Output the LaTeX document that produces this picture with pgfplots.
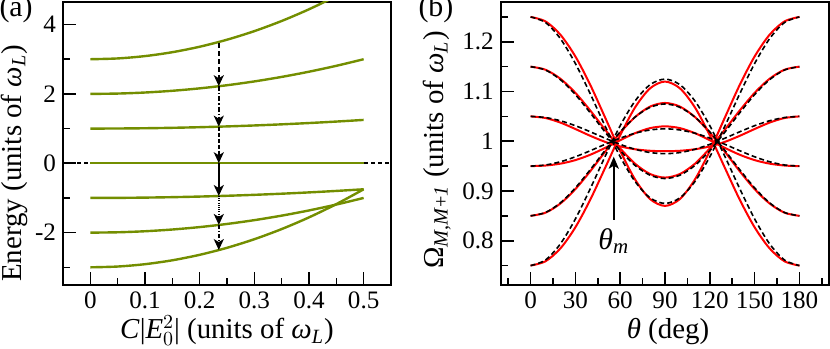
\documentclass[border=0pt]{standalone}
\usepackage{fontspec}
\setmainfont{Liberation Serif}
\usepackage{pgfplots}
\usepackage{pgfplotstable}
\pgfplotsset{compat=1.18}
\usetikzlibrary{arrows.meta}
\definecolor{olivegreen}{RGB}{115,142,0}

\pgfplotstableread{
x m3 m2 m1 m0 n1 n2 n3
0 3 2 1 0 -1 -2 -3
0.05 3.0225 2.01 1.0025 0 -0.9975 -1.99 -2.9775
0.1 3.09 2.04 1.01 0 -0.99 -1.96 -2.91
0.15 3.2025 2.09 1.0225 0 -0.9775 -1.91 -2.7975
0.2 3.36 2.16 1.04 0 -0.96 -1.84 -2.64
0.25 3.5625 2.25 1.0625 0 -0.9375 -1.75 -2.4375
0.3 3.81 2.36 1.09 0 -0.91 -1.64 -2.19
0.35 4.1025 2.49 1.1225 0 -0.8775 -1.51 -1.8975
0.4 4.44 2.64 1.16 0 -0.84 -1.36 -1.56
0.45 4.8225 2.81 1.2025 0 -0.7975 -1.19 -1.1775
0.5 5.25 3 1.25 0 -0.75 -1 -0.75
}\levels

\pgfplotstableread{
t r1 r2 r3 r4 r5 r6 d1 d2 d3 d4 d5 d6
0 1.25 1.15 1.05 0.95 0.85 0.75 1.25 1.15 1.05 0.95 0.85 0.75
10 1.2410 1.1438 1.0467 0.9512 0.8564 0.7587 1.2387 1.1432 1.0477 0.9523 0.8568 0.7613
20 1.2141 1.1256 1.0375 0.9550 0.8749 0.7847 1.2061 1.1237 1.0412 0.9588 0.8763 0.7939
30 1.1705 1.0973 1.0246 0.9621 0.9038 0.8270 1.1563 1.0938 1.0313 0.9688 0.9063 0.8438
40 1.1131 1.0617 1.0109 0.9729 0.9399 0.8828 1.0951 1.0570 1.0190 0.9810 0.9430 0.9049
50 1.0471 1.0230 0.9987 0.9868 0.9793 0.9471 1.0299 1.0180 1.0060 0.9940 0.9820 0.9701
60 0.9805 0.9858 0.9896 1.0021 1.0173 1.0120 0.9688 0.9813 0.9938 1.0063 1.0188 1.0313
70 0.9230 0.9547 0.9839 1.0163 1.0488 1.0682 0.9189 0.9513 0.9838 1.0162 1.0487 1.0811
80 0.8839 0.9342 0.9809 1.0264 1.0697 1.1064 0.8863 0.9318 0.9773 1.0227 1.0682 1.1137
90 0.870 0.927 0.980 1.030 1.077 1.120 0.875 0.925 0.975 1.025 1.075 1.125
100 0.8839 0.9342 0.9809 1.0264 1.0697 1.1064 0.8863 0.9318 0.9773 1.0227 1.0682 1.1137
110 0.9230 0.9547 0.9839 1.0163 1.0488 1.0682 0.9189 0.9513 0.9838 1.0162 1.0487 1.0811
120 0.9805 0.9858 0.9896 1.0021 1.0173 1.0120 0.9688 0.9813 0.9938 1.0063 1.0188 1.0313
130 1.0471 1.0230 0.9987 0.9868 0.9793 0.9471 1.0299 1.0180 1.0060 0.9940 0.9820 0.9701
140 1.1131 1.0617 1.0109 0.9729 0.9399 0.8828 1.0951 1.0570 1.0190 0.9810 0.9430 0.9049
150 1.1705 1.0973 1.0246 0.9621 0.9038 0.8270 1.1563 1.0938 1.0313 0.9688 0.9063 0.8438
160 1.2141 1.1256 1.0375 0.9550 0.8749 0.7847 1.2061 1.1237 1.0412 0.9588 0.8763 0.7939
170 1.2410 1.1438 1.0467 0.9512 0.8564 0.7587 1.2387 1.1432 1.0477 0.9523 0.8568 0.7613
180 1.25 1.15 1.05 0.95 0.85 0.75 1.25 1.15 1.05 0.95 0.85 0.75
}\rabi

\newcommand{\lblfont}{\rmfamily\fontsize{14.5}{17}\selectfont}
\newcommand{\tckfont}{\rmfamily\fontsize{12.6}{15}\selectfont}

\pgfplotsset{
  myaxis/.style={
    scale only axis,
    anchor=south west,
    clip mode=individual,
    tick align=inside,
    xtick pos=left, ytick pos=left,
    major tick length=6.5bp, minor tick length=3.5bp,
    every tick/.style={black, line width=0.8bp},
    axis line style={line width=1bp},
    tick label style={font=\tckfont},
    label style={font=\lblfont},
  },
  arr/.style={black, line width=1.1bp, -{Stealth[length=5.5bp,width=5bp,inset=1.5bp]}},
}

\begin{document}
\begin{tikzpicture}
\path[use as bounding box] (0,0) rectangle (415bp,174.5bp);

\begin{axis}[myaxis,
  at={(31.5bp,32bp)}, width=164bp, height=141.5bp,
  xmin=-0.05, xmax=0.55, ymin=-3.51, ymax=4.65,
  xtick={0,0.1,0.2,0.3,0.4,0.5},
  xticklabels={0,0.1,0.2,0.3,0.4,0.5},
  minor xtick={0.05,0.15,0.25,0.35,0.45},
  ytick={-2,0,2,4}, yticklabels={-2,0,2,4},
  minor ytick={-3,-1,1,3},
  xlabel={\textit{C}|$\mathit{E}_0^2$| (units of \textit{ω}\textsubscript{\textit{L}})},
  ylabel={Energy (units of \textit{ω}\textsubscript{\textit{L}})},
  xlabel style={at={(axis description cs:0.5,-0.19)}, anchor=base},
  ylabel style={at={(axis description cs:-0.149,0.43)}, anchor=center},
]
\addplot[black, line width=0.8bp, dash pattern=on 2bp off 1.5bp] coordinates {(-0.05,0) (0.55,0)};
\foreach \c in {m3,m2,m1,m0,n1,n2,n3}{
  \addplot[olivegreen, line width=1.2bp, smooth] table[x=x, y=\c] {\levels};
}
\addplot[arr, dash pattern=on 2.5bp off 1.5bp] coordinates {(0.235,3.46) (0.235,2.221)};
\addplot[arr, dash pattern=on 2.5bp off 1bp on 0.6bp off 1bp] coordinates {(0.235,2.221) (0.235,1.055)};
\addplot[arr, dash pattern=on 2bp off 1bp] coordinates {(0.235,1.055) (0.235,0)};
\addplot[arr] coordinates {(0.235,0) (0.235,-0.945)};
\addplot[arr, dash pattern=on 0.5bp off 0.6bp] coordinates {(0.235,-0.945) (0.235,-1.779)};
\addplot[arr, dash pattern=on 2bp off 1bp on 0.6bp off 1bp] coordinates {(0.235,-1.779) (0.235,-2.503)};
\node[font=\rmfamily\fontsize{15}{17}\selectfont] at (axis description cs:-0.143,0.975) {(a)};
\end{axis}

\begin{axis}[myaxis,
  at={(250.35bp,32bp)}, width=164.3bp, height=141.5bp,
  xmin=-20, xmax=200, ymin=0.711, ymax=1.28,
  xtick={0,30,60,90,120,150,180},
  xticklabels={0,30,60,90,120,150,180},
  minor xtick={-15,15,45,75,105,135,165,195},
  ytick={0.8,0.9,1,1.1,1.2},
  yticklabels={0.8,0.9,1,1.1,1.2},
  minor ytick={0.75,0.85,0.95,1.05,1.15,1.25},
  xlabel={\textit{θ} (deg)},
  ylabel={Ω\textsubscript{\textit{M},\textit{M}+\textit{1}} (units of \textit{ω}\textsubscript{\textit{L}})},
  xlabel style={at={(axis description cs:0.509,-0.19)}, anchor=base},
  ylabel style={at={(axis description cs:-0.194,0.477)}, anchor=center},
]
\foreach \c in {r1,r2,r3,r4,r5,r6}{
  \addplot[red, line width=1bp, smooth] table[x=t, y=\c] {\rabi};
}
\foreach \c in {d1,d2,d3,d4,d5,d6}{
  \addplot[black, line width=0.8bp, smooth, dash pattern=on 2.5bp off 1.5bp] table[x=t, y=\c] {\rabi};
}
\addplot[black, line width=1.1bp, -{Stealth[length=6bp,width=5bp,inset=1.5bp]}] coordinates {(55.7,0.842) (55.7,0.969)};
\node[font=\rmfamily\fontsize{15}{17}\selectfont] at (axis cs:55.7,0.80) {\textit{θ}\textsubscript{\textit{m}}};
\node[font=\rmfamily\fontsize{15}{17}\selectfont] at (axis description cs:-0.197,0.975) {(b)};
\end{axis}
\end{tikzpicture}
\end{document}
